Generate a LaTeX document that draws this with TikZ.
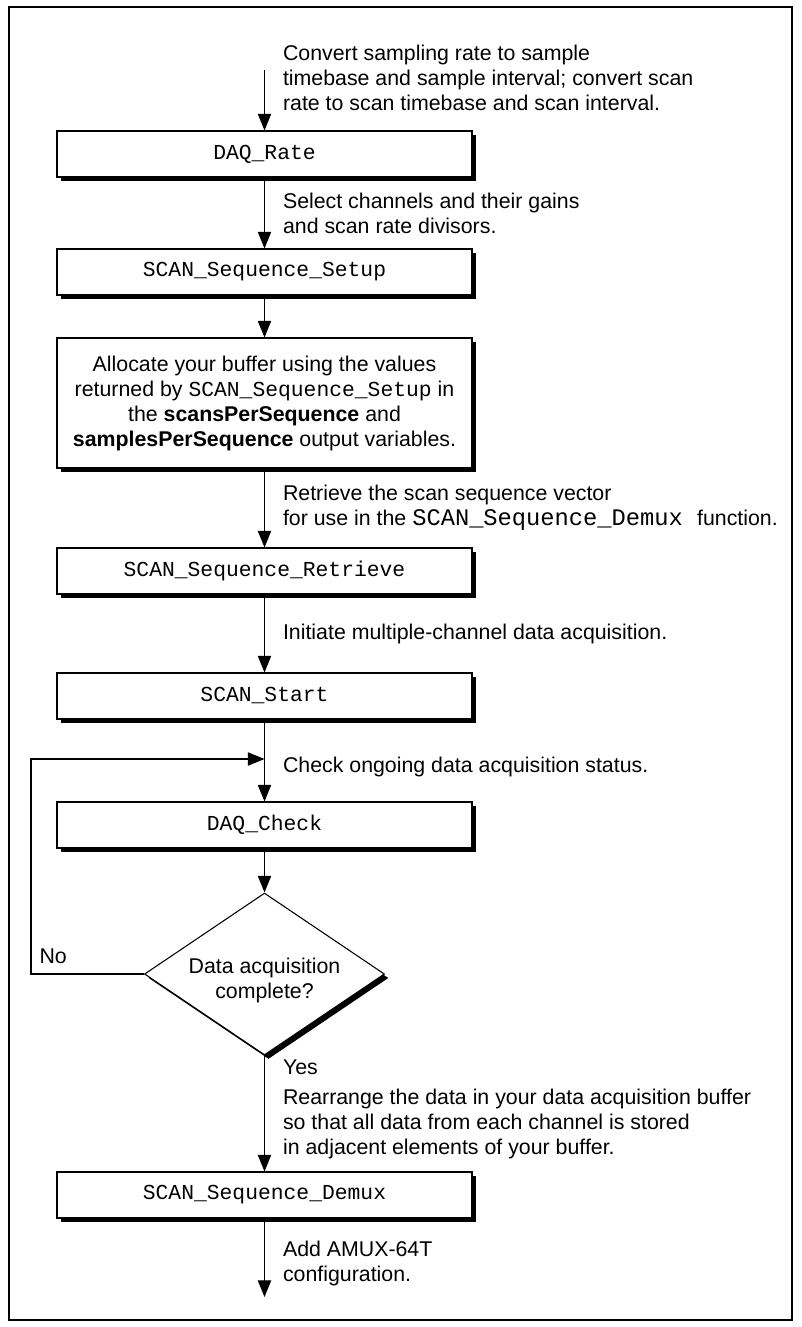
\documentclass[tikz,border=0pt]{standalone}
\usepackage{fontspec}
\setmainfont{Liberation Sans}
\setmonofont{Liberation Mono}
\usepackage{tikz}
\usetikzlibrary{arrows.meta, shapes.geometric, shadows}

\begin{document}
\begin{tikzpicture}[x=0.75pt, y=0.75pt, ->, >={Triangle[width=10pt,length=12.5pt]},
                    thick, node distance=90pt,
                    every node/.style={font=\fontsize{16}{18.75}\selectfont}]
  \tikzstyle{box}=[rectangle, draw=black, fill=white, inner sep=0pt,
                   minimum width=311.25pt, minimum height=34.5pt,
                   font=\fontsize{16}{18.75}\selectfont\ttfamily,
                   drop shadow={shadow xshift=3pt, shadow yshift=-3pt, fill=black, opacity=1}]
  \tikzstyle{bigbox}=[box, minimum height=97.5pt, align=center,
                      font=\fontsize{16}{18.75}\selectfont]
  \tikzstyle{test}=[diamond, draw=black, fill=white, inner sep=0pt, aspect=1.48,
                    minimum width=180pt, minimum height=121.5pt,
                    drop shadow={shadow xshift=3pt, shadow yshift=-3pt, fill=black, opacity=1}]
  \tikzstyle{lbl}=[right=13.5pt, inner sep=0pt, align=left]

  \useasboundingbox (0,0) rectangle (801,-1327);
  \draw[-, line width=2.2pt] (9,-7) rectangle (792,-1320);

  % steps
  \node[box] (rate) at (264.5,-154) {DAQ\_Rate};
  \node[box]    (setup) [node distance=88.5pt, below of=rate]      {SCAN\_Sequence\_Setup};
  \node[bigbox] (alloc) [node distance=98.25pt, below of=setup]    {Allocate your buffer using the values\\
    returned by \texttt{SCAN\_Sequence\_Setup} in\\
    the \textbf{scansPerSequence} and\\
    \textbf{samplesPerSequence} output variables.};
  \node[box]    (retrieve) [node distance=126pt, below of=alloc]   {SCAN\_Sequence\_Retrieve};
  \node[box]    (start) [node distance=93.75pt, below of=retrieve] {SCAN\_Start};
  \node[box]    (check) [node distance=96.75pt, below of=start]    {DAQ\_Check};
  \node[test]   (done) [node distance=111.75pt, below of=check,
    label={[align=center, inner sep=0pt, yshift=-5pt]center:Data acquisition\\complete?}] {};
  \node[box]    (demux) [node distance=165.75pt, below of=done]    {SCAN\_Sequence\_Demux};

  \coordinate (in) at (264.5,-70);
  \coordinate (join) at (264.5,-759);
  \coordinate (loop) at (31,-759);
  \coordinate (out) at (264.5,-1297);
  \node[inner sep=0pt, anchor=base west] (no) at (39,-963) {No};

  % connectors
  \draw (in) -- (rate.north) node[lbl, pos=0.13] {Convert sampling rate to sample\\
    timebase and sample interval; convert scan\\rate to scan timebase and scan interval.};
  \draw (rate.south) -- (setup.north) node[lbl, midway] {Select channels and their gains\\
    and scan rate divisors.};
  \draw (setup.south) -- (alloc.north);
  \draw (alloc.south) -- (retrieve.north) node[lbl, midway] {Retrieve the scan sequence vector\\
    for use in the {\fontsize{17.8}{18.75}\selectfont\ttfamily SCAN\_Sequence\_Demux\ }function.};
  \draw (retrieve.south) -- (start.north) node[lbl, midway] {Initiate multiple-channel data acquisition.};
  \draw (start.south) -- (check.north) node[lbl, pos=0.58] {Check ongoing data acquisition status.};
  \draw (check.south) -- (done.north);
  \draw (done.west) -| (loop) -- (join);
  \draw (done.south) -- (demux.north)
    node[lbl, pos=0.1] {Yes}
    node[lbl, pos=0.59] {Rearrange the data in your data acquisition buffer\\
      so that all data from each channel is stored\\in adjacent elements of your buffer.};
  \draw (demux.south) -- (out) node[lbl, pos=0.57] {Add AMUX-64T\\configuration.};
\end{tikzpicture}
\end{document}
